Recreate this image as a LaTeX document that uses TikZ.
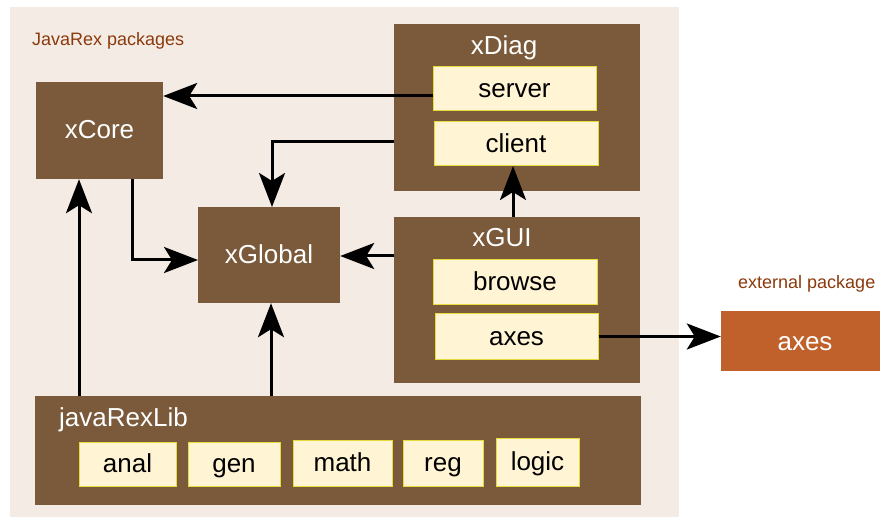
\documentclass[tikz,border=0pt]{standalone}
\usepackage{fontspec}
\setmainfont{Liberation Sans}
\usetikzlibrary{arrows.meta,positioning}
\definecolor{bgc}{HTML}{F4EBE5}
\definecolor{pkg}{HTML}{7A5A3A}
\definecolor{inner}{HTML}{FFF4D4}
\definecolor{innerb}{HTML}{E6DC3C}
\definecolor{extc}{HTML}{C0612B}
\definecolor{lblc}{HTML}{8B3A0C}
\tikzset{
  pkgbox/.style={fill=pkg, draw=none, inner sep=0pt},
  innerbox/.style={fill=inner, draw=innerb, line width=1bp, inner sep=0pt,
     text=black, font=\fontsize{26bp}{30bp}\selectfont, text height=18bp, text depth=1bp},
  pkgtext/.style={text=white, font=\fontsize{26bp}{30bp}\selectfont, inner sep=0pt,
     text height=18bp, text depth=1bp},
  smalllbl/.style={text=lblc, font=\fontsize{18bp}{21bp}\selectfont, inner sep=0pt, anchor=base west},
  conn/.style={line width=3bp, draw=black, -{Stealth[length=34bp,width=26bp,inset=8bp]}}
}
\begin{document}
\begin{tikzpicture}[x=1bp,y=-1bp]
\useasboundingbox (0,0) rectangle (880,517);
% background
\fill[bgc] (10,7) rectangle (679,517);
\node[smalllbl] (lblpkg) at (32,46) {JavaRex packages};
\node[smalllbl] (lblext) at (738,289) {external package};
% package boxes
\node[pkgbox, minimum width=127bp, minimum height=97bp] (xCore) at (99.5,130.5) {};
\node[pkgtext] (xCoreT) at (xCore) {xCore};
\node[pkgbox, minimum width=142bp, minimum height=96bp] (xGlobal) at (269,255) {};
\node[pkgtext] (xGlobalT) at (xGlobal) {xGlobal};
\node[pkgbox, minimum width=246bp, minimum height=167bp] (xDiag) at (517,107.5) {};
\node[pkgtext] (xDiagT) at (504,46.5) {xDiag};
\node[pkgbox, minimum width=246bp, minimum height=166bp] (xGUI) at (517,300) {};
\node[pkgtext] (xGUIT) at (502,238) {xGUI};
\node[pkgbox, minimum width=605bp, minimum height=109bp] (lib) at (338,450.5) {};
\node[pkgtext, anchor=base west] (libT) at (59,426) {javaRexLib};
\node[fill=extc, inner sep=0pt, minimum width=168bp, minimum height=60bp] (extaxes) at (805,341) {};
\node[pkgtext] (extaxesT) at (805,342) {axes};
% connectors
\coordinate (s1) at (433,96);
\coordinate (c1) at (394,142);
\coordinate (k1) at (132,179);
\coordinate (k2) at (198,260);
\coordinate (g1) at (394,256);
\coordinate (l1) at (79,396);
\coordinate (l2) at (271,396);
\coordinate (u1) at (513,217);
\draw[conn] (s1) -- (xCore.east |- s1);
\draw[conn] (c1) -| (272,207) coordinate (c2);
\draw[conn] (k1) |- (k2);
\draw[conn] (g1) -- (xGlobal.east |- g1);
\draw[conn] (l1) -- (l1 |- xCore.south);
\draw[conn] (l2) -- (l2 |- xGlobal.south);
\draw[conn] (u1) -- (u1 |- 0,166);
% inner boxes
\node[innerbox, minimum width=163bp, minimum height=44bp] (server) at (514.5,89) {server};
\node[innerbox, minimum width=164bp, minimum height=44bp] (client) at (516,144) {client};
\node[innerbox, minimum width=164bp, minimum height=44bp] (browse) at (515,282) {browse};
\node[innerbox, minimum width=163bp, minimum height=45bp] (axesi) at (516.5,336.5) {axes};
\node[innerbox, minimum width=97bp, minimum height=44bp] (anal) at (127.5,464) {anal};
\node[innerbox, minimum width=92bp, minimum height=44bp] (gen) at (234,464) {gen};
\node[innerbox, minimum width=99bp, minimum height=46bp] (math) at (342.5,463) {math};
\node[innerbox, minimum width=80bp, minimum height=46bp] (reg) at (443,463) {reg};
\node[innerbox, minimum width=83bp, minimum height=48bp] (logic) at (537.5,462) {logic};
\draw[conn] (axesi.east) -- (axesi.east -| extaxes.west);
\end{tikzpicture}
\end{document}
